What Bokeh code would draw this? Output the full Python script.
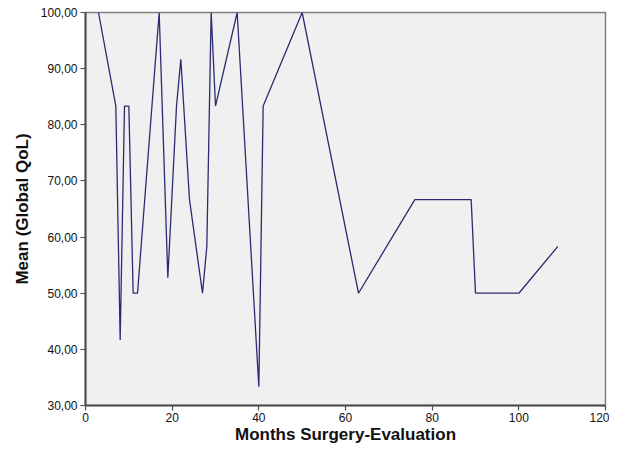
from bokeh.plotting import figure
from bokeh.models import Range1d, FixedTicker, CustomJSTickFormatter
from bokeh.embed import file_html
from bokeh.resources import INLINE

months = [3, 7, 8, 9, 10, 11, 12, 17, 19, 21, 22, 24, 27, 28, 29, 30, 35, 40, 41, 50, 63, 76, 89, 90, 100, 109]
mean_qol = [100, 83.33, 41.67, 83.33, 83.33, 50, 50, 100, 52.78, 83.33, 91.67, 66.67, 50, 58.33, 100, 83.33,
            100, 33.33, 83.33, 100, 50, 66.67, 66.67, 50, 50, 58.33]
x_ticks = [0, 20, 40, 60, 80, 100, 120]
y_ticks = [30, 40, 50, 60, 70, 80, 90, 100]

p = figure(width=609, height=446, output_backend="svg", toolbar_location=None,
           x_range=Range1d(0, 120), y_range=Range1d(30, 100),
           min_border_left=85, min_border_right=4, min_border_top=12, min_border_bottom=38)
p.background_fill_color = "#F0F0F0"
p.border_fill_color = "white"
p.outline_line_color = "#7F7F7F"
p.outline_line_width = 1.5
p.grid.visible = False

p.line(months, mean_qol, line_color="#2B2B72", line_width=1.3)

FONT = "Liberation Sans"
for ax in (p.xaxis[0], p.yaxis[0]):
    ax.axis_line_color = "#4D4D4D"
    ax.axis_line_width = 2
    ax.major_tick_line_color = "#4D4D4D"
    ax.major_tick_line_width = 1.2
    ax.major_tick_out = 5
    ax.major_tick_in = 0
    ax.minor_tick_line_color = None
    ax.major_label_text_font = FONT
    ax.major_label_text_font_size = "12px"
    ax.major_label_text_color = "#111111"
    ax.axis_label_text_font = FONT
    ax.axis_label_text_font_style = "bold"
    ax.axis_label_text_color = "#111111"
    ax.axis_label_text_font_size = "17px"

p.xaxis.ticker = FixedTicker(ticks=x_ticks)
p.yaxis.ticker = FixedTicker(ticks=y_ticks)
p.yaxis.formatter = CustomJSTickFormatter(code="return tick.toFixed(2).replace('.', ',');")
p.xaxis.axis_label = "Months Surgery-Evaluation"
p.yaxis.axis_label = "Mean (Global QoL)"
p.xaxis.major_label_standoff = 2
p.yaxis.major_label_standoff = 3
p.xaxis.axis_label_standoff = 0
p.yaxis.axis_label_standoff = 6

open("out.html", "w").write(file_html(p, INLINE))
